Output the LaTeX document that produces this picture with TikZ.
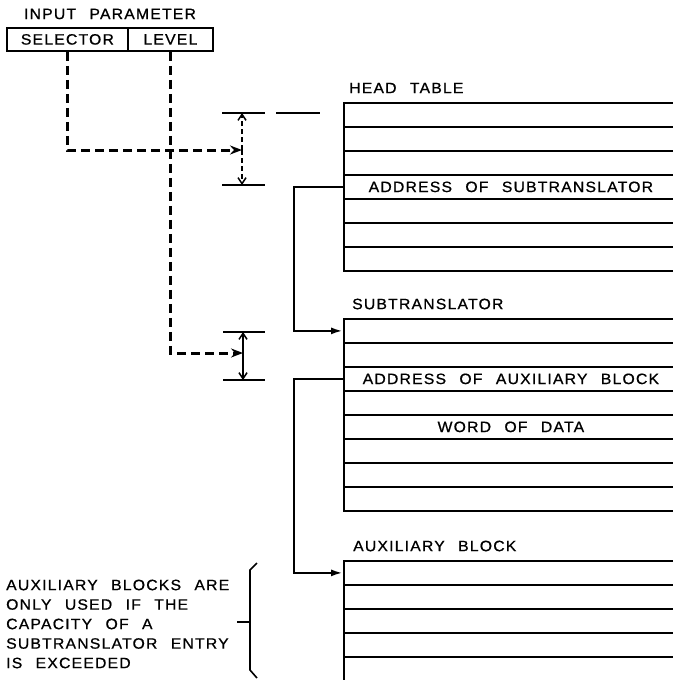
\documentclass[tikz,border=0pt]{standalone}
\usepackage{fontspec}
\newfontfamily\lettering{Liberation Sans}[FakeStretch=1.05,LetterSpace=8,WordSpace=2.4,FakeBold=0.8]
\usetikzlibrary{arrows.meta}
\tikzset{
  lettertext/.style={font=\lettering\fontsize{15}{19.5}\selectfont,inner sep=0pt},
  tablerow/.style={draw,line width=1.8pt,minimum width=334pt,minimum height=24pt,
    anchor=north west,inner sep=0pt},
  parbox/.style={draw,line width=1.8pt,minimum height=23pt,anchor=north west,inner sep=0pt,
    font=\lettering\fontsize{15}{20}\selectfont},
  ptr/.style={line width=2.3pt,-{Latex[length=12pt,width=7pt]}},
  selpath/.style={line width=3pt,dash pattern=on 9pt off 5pt,
    -{Stealth[length=12pt,width=9pt,inset=4pt]}},
  dimtick/.style={line width=1.6pt},
  dimarrow/.style={line width=1.5pt,-{Straight Barb[length=6pt,width=8pt]}}
}
\begin{document}
\begin{tikzpicture}[x=1pt,y=-1pt]
\useasboundingbox[fill=white] (0,0) rectangle (672,680);
% input parameter
\node[lettertext] (inname) at (110,14) {INPUT PARAMETER};
\node[parbox,minimum width=121pt] (sel) at (6,27) {SELECTOR};
\node[parbox,minimum width=85pt] (lev) at (127,27) {LEVEL};
% head table
\node[lettertext,anchor=west] (headname) at (349,88) {HEAD TABLE};
\foreach \i in {1,...,7}
  \node[tablerow] (head-\i) at (343,{102+24*(\i-1)}) {};
\node[lettertext] at (head-4) {ADDRESS OF SUBTRANSLATOR};
% subtranslator
\node[lettertext,anchor=west] (subname) at (352,304) {SUBTRANSLATOR};
\foreach \i in {1,...,8}
  \node[tablerow] (sub-\i) at (343,{318+24*(\i-1)}) {};
\node[lettertext] at (sub-3) {ADDRESS OF AUXILIARY BLOCK};
\node[lettertext] at (sub-5) {WORD OF DATA};
% auxiliary block
\node[lettertext,anchor=west] (auxname) at (353,546) {AUXILIARY BLOCK};
\foreach \i in {1,...,6}
  \node[tablerow] (aux-\i) at (343,{560+24*(\i-1)}) {};
% dimension marks
\coordinate (dimA-top) at (242,113);
\coordinate (dimA-mid) at (242,150);
\coordinate (dimA-bot) at (242,185);
\coordinate (dimB-top) at (243,332);
\coordinate (dimB-mid) at (243,353);
\coordinate (dimB-bot) at (243,380);
\draw[dimtick] (222,113) -- (265,113) (276,113) -- (320,113) (222,185) -- (265,185);
\draw[dimtick] (223,332) -- (265,332) (223,380) -- (265,380);
\draw[dimarrow,dash pattern=on 5pt off 3pt] (dimA-mid) -- (dimA-top);
\draw[dimarrow,dash pattern=on 5pt off 3pt] (dimA-mid) -- (dimA-bot);
\draw[dimarrow] (dimB-mid) -- (dimB-top);
\draw[dimarrow] (dimB-mid) -- (dimB-bot);
% selector and level
\draw[selpath] (sel.south) |- (dimA-mid);
\draw[selpath] (lev.south) |- (dimB-mid);
% pointers
\draw[ptr] (head-4.west) -- ++(-49,0) |- (sub-1.west);
\draw[ptr] (sub-3.west) -- ++(-49,0) |- (aux-1.west);
% note
\node[lettertext,anchor=west,align=left] (note) at (6,624)
  {AUXILIARY BLOCKS ARE\\ONLY USED IF THE\\CAPACITY OF A\\SUBTRANSLATOR ENTRY\\IS EXCEEDED};
\draw[dimtick] (257,563) -- (250,570) -- (250,670) -- (257,678);
\draw[dimtick] (237,622) -- (250,622);
\end{tikzpicture}
\end{document}
